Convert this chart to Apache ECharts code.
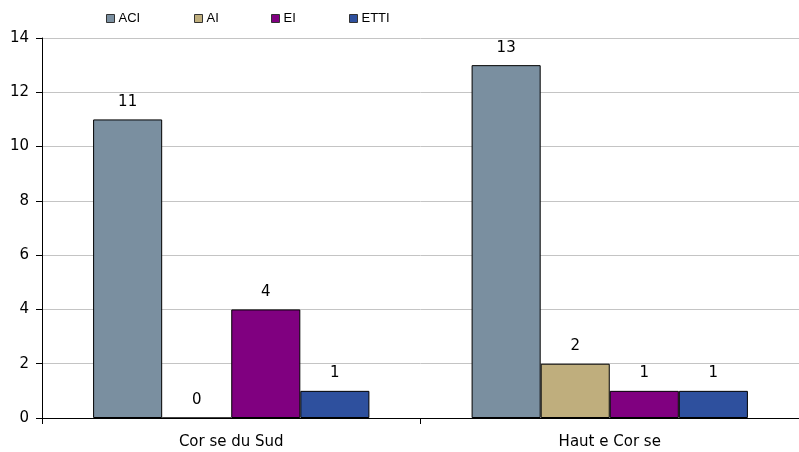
<!DOCTYPE html>
<html>
<head>
<meta charset="utf-8">
<script src="https://cdn.jsdelivr.net/npm/echarts@6/dist/echarts.min.js"></script>
<style>
html,body{margin:0;padding:0;background:#fff;}
#chart{width:799px;height:452px;}
</style>
</head>
<body>
<div id="chart"></div>
<script>
// Départements and structure counts
const categories = ['Cor se du Sud', 'Haut e Cor se'];
const seriesNames = ['ACI', 'AI', 'EI', 'ETTI'];
const aciValues = [11, 13];
const aiValues = [0, 2];
const eiValues = [4, 1];
const ettiValues = [1, 1];
const yTicks = [0, 2, 4, 6, 8, 10, 12, 14];

const colors = ['#7a8fa0', '#bfae7d', '#800080', '#2e509e'];
const seriesValues = [aciValues, aiValues, eiValues, ettiValues];
const legendLefts = [106, 194, 271, 349];

const AXIS_FONT = '"DejaVu Sans", sans-serif';
const LEGEND_FONT = '"Liberation Sans", Arial, sans-serif';

const chart = echarts.init(document.getElementById('chart'), null, {renderer: 'canvas'});

chart.setOption({
  animation: false,
  color: colors,
  legend: seriesNames.map((n, i) => ({
    data: [n],
    left: legendLefts[i],
    top: 12,
    padding: 0,
    itemWidth: 8,
    itemHeight: 8,
    itemGap: 0,
    icon: 'rect',
    itemStyle: {borderColor: '#333', borderWidth: 1},
    textStyle: {fontFamily: LEGEND_FONT, fontSize: 13, color: '#000', padding: [0, 0, 0, -1]},
    selectedMode: false
  })),
  grid: {left: 42, right: 0, top: 38, bottom: 34, containLabel: false},
  xAxis: {
    type: 'category',
    data: categories,
    axisLine: {lineStyle: {color: '#000', width: 1}},
    axisTick: {show: true, alignWithLabel: false, length: 6, lineStyle: {color: '#000'}},
    axisLabel: {fontFamily: AXIS_FONT, fontSize: 15, color: '#000', margin: 17}
  },
  yAxis: {
    type: 'value',
    min: yTicks[0],
    max: yTicks[yTicks.length - 1],
    interval: 2,
    axisLine: {show: true, lineStyle: {color: '#000', width: 1}},
    axisTick: {show: true, length: 6, lineStyle: {color: '#000'}},
    axisLabel: {fontFamily: AXIS_FONT, fontSize: 15, color: '#000', margin: 13},
    splitLine: {show: true, lineStyle: {color: '#c4c4c4', width: 1}}
  },
  series: seriesNames.map((n, i) => ({
    name: n,
    type: 'bar',
    data: seriesValues[i],
    barGap: '0%',
    barCategoryGap: '27%',
    itemStyle: {color: colors[i], borderColor: '#000', borderWidth: 1},
    label: {
      show: true,
      position: 'top',
      distance: 10,
      fontFamily: AXIS_FONT,
      fontSize: 15,
      color: '#000'
    }
  }))
});
</script>
</body>
</html>
